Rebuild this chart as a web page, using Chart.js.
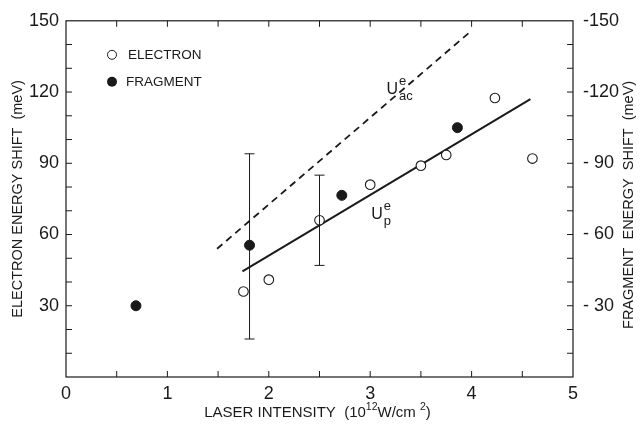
<!DOCTYPE html>
<html>
<head>
<meta charset="utf-8">
<script src="https://cdn.jsdelivr.net/npm/chart.js@4.4.1/dist/chart.umd.min.js"></script>
<style>
  html, body { margin: 0; padding: 0; background: #fff; }
  #wrap { width: 644px; height: 430px; }
</style>
</head>
<body>
<div id="wrap"><canvas id="myChart" width="644" height="430"></canvas></div>
<script>
const electronX = [1.75, 2.0, 2.5, 3.0, 3.5, 3.75, 4.23, 4.6];
const electronY = [36, 41, 66, 81, 89, 93.5, 117.5, 92];
const fragmentX = [0.69, 1.81, 2.72, 3.86];
const fragmentY = [30, 55.5, 76.5, 105];
const upX = [1.74, 4.58];
const upY = [44.5, 117];
const uacX = [1.49, 3.99];
const uacY = [54, 145.5];
const errX = [1.81, 2.5];
const errLow = [16, 47];
const errHigh = [94, 85];
const leftTicks = [30, 60, 90, 120, 150];
const rightTicks = { 30: "- 30", 60: "- 60", 90: "- 90", 120: "-120", 150: "-150" };
const xTicks = [0, 1, 2, 3, 4, 5];

const ink = "#1a1a1a";
const FONT = "'Liberation Sans Narrow', 'Arial Narrow', 'Liberation Sans', sans-serif";

const pts = (xs, ys) => xs.map((x, i) => ({ x: x, y: ys[i] }));

// frame, inward ticks, error bars, legend and labels
const decor = {
  id: "decor",
  afterDraw(chart) {
    const ctx = chart.ctx;
    const a = chart.chartArea;
    const sx = chart.scales.x, sy = chart.scales.y;
    ctx.save();
    ctx.strokeStyle = ink;
    ctx.lineWidth = 1.2;
    ctx.strokeRect(a.left, a.top, a.right - a.left, a.bottom - a.top);

    ctx.lineWidth = 1;
    const t = 6;
    ctx.beginPath();
    sx.ticks.forEach(tk => {
      const p = sx.getPixelForValue(tk.value);
      if (p <= a.left + 1 || p >= a.right - 1) return;
      ctx.moveTo(p, a.bottom); ctx.lineTo(p, a.bottom - t);
      ctx.moveTo(p, a.top); ctx.lineTo(p, a.top + t);
    });
    sy.ticks.forEach(tk => {
      const p = sy.getPixelForValue(tk.value);
      if (p <= a.top + 1 || p >= a.bottom - 1) return;
      ctx.moveTo(a.left, p); ctx.lineTo(a.left + t, p);
      ctx.moveTo(a.right, p); ctx.lineTo(a.right - t, p);
    });
    ctx.stroke();

    // error bars
    ctx.beginPath();
    errX.forEach((x, i) => {
      const px = sx.getPixelForValue(x);
      const lo = sy.getPixelForValue(errLow[i]);
      const hi = sy.getPixelForValue(errHigh[i]);
      ctx.moveTo(px, lo); ctx.lineTo(px, hi);
      ctx.moveTo(px - 5, lo); ctx.lineTo(px + 5, lo);
      ctx.moveTo(px - 5, hi); ctx.lineTo(px + 5, hi);
    });
    ctx.stroke();

    // legend
    ctx.fillStyle = ink;
    ctx.font = "13.5px " + FONT;
    ctx.textBaseline = "middle";
    ctx.beginPath();
    ctx.arc(a.left + 46, a.top + 34, 4.5, 0, Math.PI * 2);
    ctx.stroke();
    ctx.fillText("ELECTRON", a.left + 62, a.top + 34);
    ctx.beginPath();
    ctx.arc(a.left + 46, a.top + 61, 5, 0, Math.PI * 2);
    ctx.fill();
    ctx.fillText("FRAGMENT", a.left + 60, a.top + 61);

    // line labels
    const label = (x, y, sup, sub) => {
      const px = sx.getPixelForValue(x), py = sy.getPixelForValue(y);
      ctx.font = "16px " + FONT;
      ctx.fillText("U", px, py);
      const w = ctx.measureText("U").width + 1;
      ctx.font = "13px " + FONT;
      ctx.fillText(sup, px + w, py - 8);
      ctx.fillText(sub, px + w, py + 7);
    };
    label(3.16, 121, "e", "ac");
    label(3.01, 68.5, "e", "p");

    // x title with superscripts
    const parts = [["LASER INTENSITY  (10", 15, 0], ["12", 10.5, -6], ["W/cm ", 15, 0], ["2", 10.5, -6], [")", 15, 0]];
    let total = 0;
    parts.forEach(p => { ctx.font = p[1] + "px " + FONT; total += ctx.measureText(p[0]).width; });
    let cx = (a.left + a.right) / 2 - total / 2 - 2;
    parts.forEach(p => {
      ctx.font = p[1] + "px " + FONT;
      ctx.fillText(p[0], cx, 413 + p[2]);
      cx += ctx.measureText(p[0]).width;
    });

    // right title, reading upwards
    ctx.font = "14.5px " + FONT;
    ctx.textAlign = "center";
    ctx.translate(629, (a.top + a.bottom) / 2 + 6);
    ctx.rotate(-Math.PI / 2);
    ctx.fillText("FRAGMENT  ENERGY  SHIFT  (meV)", 0, 0);
    ctx.restore();
  }
};

const data = {
  datasets: [
    {
      label: "Electron",
      data: pts(electronX, electronY),
      pointStyle: "circle",
      pointRadius: 4.8,
      pointBorderWidth: 1.1,
      pointBackgroundColor: "#fff",
      pointBorderColor: ink,
      showLine: false
    },
    {
      label: "Fragment",
      data: pts(fragmentX, fragmentY),
      pointRadius: 5,
      pointBackgroundColor: ink,
      pointBorderColor: ink,
      showLine: false
    },
    {
      label: "Up",
      data: pts(upX, upY),
      showLine: true,
      borderColor: ink,
      borderWidth: 2,
      pointRadius: 0
    },
    {
      label: "Uac",
      data: pts(uacX, uacY),
      showLine: true,
      borderColor: ink,
      borderWidth: 1.8,
      borderDash: [7, 5],
      pointRadius: 0
    }
  ]
};

const tickFont = { family: FONT, size: 18 };
const titleFont = { family: FONT, size: 14.5 };

const config = {
  type: "scatter",
  data: data,
  options: {
    responsive: false,
    animation: false,
    layout: { padding: { top: 19, left: 0, right: 0, bottom: 0 } },
    plugins: { legend: { display: false }, tooltip: { enabled: false } },
    scales: {
      x: {
        type: "linear", min: 0, max: 5,
        grid: { display: false, drawTicks: false },
        border: { display: false },
        ticks: {
          stepSize: 0.5, autoSkip: false, padding: 6, color: ink, font: tickFont,
          callback: v => (xTicks.includes(v) ? String(v) : "")
        },
        afterFit: s => { s.height = 53; }
      },
      y: {
        position: "left", min: 0, max: 150,
        grid: { display: false, drawTicks: false },
        border: { display: false },
        ticks: {
          stepSize: 10, autoSkip: false, padding: 7, color: ink, font: tickFont,
          callback: v => (leftTicks.includes(v) ? String(v) : "")
        },
        title: {
          display: true, text: "ELECTRON ENERGY SHIFT  (meV)",
          color: ink, font: titleFont, padding: { top: 9, bottom: 0 }
        },
        afterFit: s => { s.width = 66; }
      },
      y2: {
        position: "right", min: 0, max: 150,
        grid: { display: false, drawTicks: false },
        border: { display: false },
        ticks: {
          stepSize: 30, autoSkip: false, padding: 10, color: ink, font: tickFont,
          callback: v => rightTicks[v] || ""
        },
        afterFit: s => { s.width = 71; }
      }
    }
  },
  plugins: [decor]
};

const ctx = document.getElementById("myChart").getContext("2d");
new Chart(ctx, config);
</script>
</body>
</html>
